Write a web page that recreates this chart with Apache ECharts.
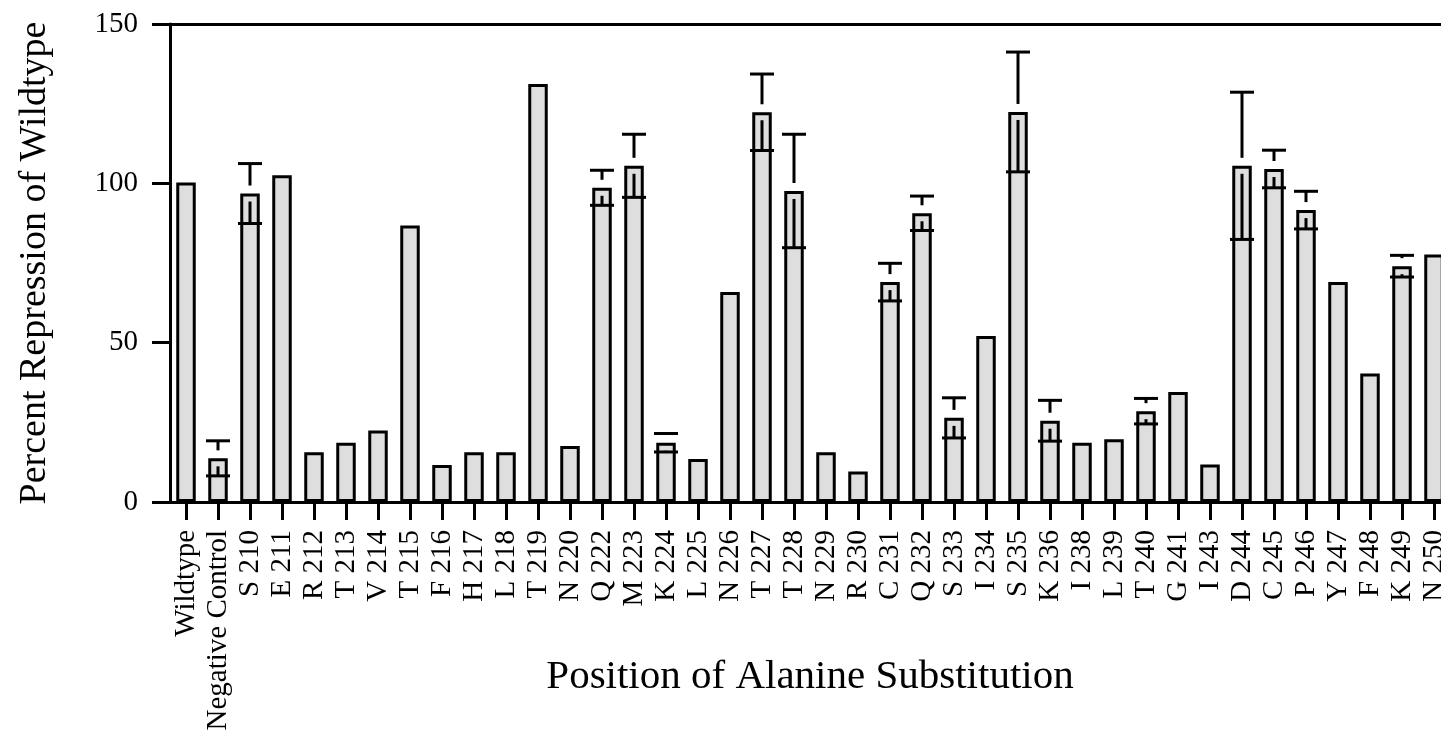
<!DOCTYPE html>
<html>
<head>
<meta charset="utf-8">
<script src="https://cdn.jsdelivr.net/npm/echarts@6/dist/echarts.min.js"></script>
<style>
html,body{margin:0;padding:0;background:#fff;}
#chart{width:1441px;height:736px;}
</style>
</head>
<body>
<div id="chart"></div>
<script>
// ---- data ----
var categories = ['Wildtype','Negative Control','S 210','E 211','R 212','T 213','V 214','T 215','F 216','H 217',
  'L 218','T 219','N 220','Q 222','M 223','K 224','L 225','N 226','T 227','T 228',
  'N 229','R 230','C 231','Q 232','S 233','I 234','S 235','K 236','I 238','L 239',
  'T 240','G 241','I 243','D 244','C 245','P 246','Y 247','F 248','K 249','N 250'];
var values = [100.3, 13.7, 96.8, 102.5, 15.6, 18.6, 22.4, 86.8, 11.6, 15.6,
  15.6, 131.2, 17.6, 98.6, 105.5, 18.6, 13.5, 65.9, 122.3, 97.6,
  15.6, 9.6, 69, 90.6, 26.4, 52.1, 122.4, 25.5, 18.6, 19.7,
  28.5, 34.5, 11.8, 105.5, 104.5, 91.6, 69, 40.3, 74, 77.7];
var errors = [null, 5.5, 9.4, null, null, null, null, null, null, null,
  null, null, null, 5.5, 9.9, 2.9, null, null, 12, 17.8,
  null, null, 5.9, 5.4, 6.3, null, 18.8, 6.4, null, null,
  4, null, null, 23.1, 5.9, 5.9, null, null, 3.4, null];
var yTicks = [0, 50, 100, 150];

var errData = [];
for (var i = 0; i < categories.length; i++) {
  if (errors[i] != null) errData.push([i, values[i], errors[i]]);
}

var FONT = 'Liberation Serif, Times New Roman, serif';
var chart = echarts.init(document.getElementById('chart'));
chart.setOption({
  animation: false,
  backgroundColor: '#fff',
  grid: { left: 170, top: 24, width: 1280, height: 478, outerBoundsMode: 'none' },
  xAxis: [{
    type: 'category',
    data: categories,
    position: 'bottom',
    name: 'Position of Alanine Substitution',
    nameLocation: 'middle',
    nameGap: 155,
    nameMoveOverlap: false,
    nameTextStyle: { fontFamily: FONT, fontSize: 41, color: '#000' },
    axisLine: { show: true, lineStyle: { color: '#000', width: 3 } },
    axisTick: { show: true, alignWithLabel: true, length: 18, lineStyle: { color: '#000', width: 3 } },
    axisLabel: { interval: 0, rotate: 90, margin: 28, fontFamily: FONT, fontSize: 29, color: '#000' },
    splitLine: { show: false }
  }, {
    type: 'category',
    data: categories,
    position: 'top',
    axisLine: { show: true, lineStyle: { color: '#000', width: 3 } },
    axisTick: { show: false },
    axisLabel: { show: false },
    splitLine: { show: false }
  }],
  yAxis: {
    type: 'value',
    min: yTicks[0],
    max: yTicks[yTicks.length - 1],
    interval: yTicks[1] - yTicks[0],
    name: 'Percent Repression of Wildtype',
    nameLocation: 'middle',
    nameRotate: 90,
    nameGap: 116,
    nameMoveOverlap: false,
    nameTextStyle: { fontFamily: FONT, fontSize: 38, color: '#000' },
    axisLine: { show: true, lineStyle: { color: '#000', width: 3 } },
    axisTick: { show: true, length: 18, lineStyle: { color: '#000', width: 3 } },
    axisLabel: { margin: 32, fontFamily: FONT, fontSize: 29, color: '#000' },
    splitLine: { show: false }
  },
  series: [{
    type: 'bar',
    data: values,
    barWidth: 19.5,
    itemStyle: { color: '#dedede', borderColor: '#000', borderWidth: 3 },
    z: 2
  }, {
    type: 'custom',
    data: errData,
    z: 5,
    renderItem: function (params, api) {
      var idx = api.value(0), mean = api.value(1), err = api.value(2);
      var top = api.coord([idx, mean]);
      var hi = api.coord([idx, mean + err]);
      var lo = api.coord([idx, mean - err]);
      var x = top[0], capHalf = 12, gap = 8;
      var style = { stroke: '#000', lineWidth: 3, fill: null };
      var children = [
        { type: 'line', shape: { x1: x - capHalf, y1: hi[1], x2: x + capHalf, y2: hi[1] }, style: style },
        { type: 'line', shape: { x1: x - capHalf, y1: lo[1], x2: x + capHalf, y2: lo[1] }, style: style }
      ];
      if (hi[1] < top[1] - gap) {
        children.push({ type: 'line', shape: { x1: x, y1: hi[1], x2: x, y2: top[1] - gap }, style: style });
      }
      if (lo[1] > top[1] + gap) {
        children.push({ type: 'line', shape: { x1: x, y1: top[1] + gap, x2: x, y2: lo[1] }, style: style });
      }
      return { type: 'group', children: children };
    }
  }]
});
</script>
</body>
</html>
